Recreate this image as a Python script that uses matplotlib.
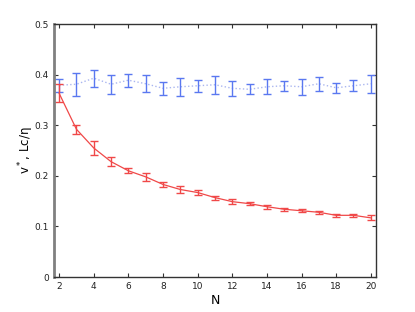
import matplotlib
matplotlib.use("Agg")
import matplotlib.pyplot as plt
import numpy as np

N = list(range(2, 21))
blue_vals = [0.379, 0.381, 0.393, 0.381, 0.389, 0.382, 0.373, 0.376, 0.378, 0.380,
             0.373, 0.371, 0.376, 0.378, 0.376, 0.382, 0.374, 0.378, 0.382]
blue_err = [0.013, 0.023, 0.017, 0.019, 0.013, 0.017, 0.013, 0.018, 0.012, 0.018,
            0.015, 0.010, 0.015, 0.010, 0.016, 0.014, 0.010, 0.011, 0.018]
red_vals = [0.363, 0.292, 0.255, 0.228, 0.210, 0.198, 0.183, 0.173, 0.167, 0.157,
            0.149, 0.145, 0.139, 0.134, 0.131, 0.128, 0.122, 0.122, 0.117]
red_err = [0.018, 0.009, 0.013, 0.009, 0.005, 0.008, 0.005, 0.006, 0.005, 0.004,
           0.005, 0.003, 0.004, 0.003, 0.003, 0.003, 0.003, 0.003, 0.005]
xticks = list(range(2, 21, 2))
yticks = [0, 0.1, 0.2, 0.3, 0.4, 0.5]
ytick_labels = ["0", "0.1", "0.2", "0.3", "0.4", "0.5"]

fig = plt.figure(figsize=(4.15, 3.12), dpi=100)
ax = fig.add_axes([0.130, 0.112, 0.776, 0.811])

blue = "#5a78f0"
red = "#f04848"
ax.plot(N, blue_vals, linestyle=":", color="#aab6f0", linewidth=1.0)
ax.errorbar(N, blue_vals, yerr=blue_err, fmt="none", ecolor=blue, elinewidth=1.0,
            capsize=3, capthick=1.0)
ax.plot(N, red_vals, linestyle="-", color=red, linewidth=0.9)
ax.errorbar(N, red_vals, yerr=red_err, fmt="none", ecolor=red, elinewidth=1.0,
            capsize=3, capthick=1.0)

ax.set_xlim(1.7, 20.3)
ax.set_ylim(0, 0.5)
ax.set_xticks(xticks)
ax.set_yticks(yticks)
ax.set_yticklabels(ytick_labels)
ax.tick_params(direction="in", labelsize=6.5, length=3, top=True, right=True,
               colors="#333333", labelcolor="#222222")
ax.set_xlabel("N", fontsize=9, labelpad=2)
ax.set_ylabel("v$^*$, Lc/\u03b7", fontsize=8.5, labelpad=0)
ax.yaxis.set_label_coords(-0.055, 0.5)
for s in ["top", "right", "bottom"]:
    ax.spines[s].set_color("#333333")
    ax.spines[s].set_linewidth(1.0)
ax.spines["left"].set_color("#808080")
ax.spines["left"].set_linewidth(2.0)

fig.savefig("out.png", dpi=100)
